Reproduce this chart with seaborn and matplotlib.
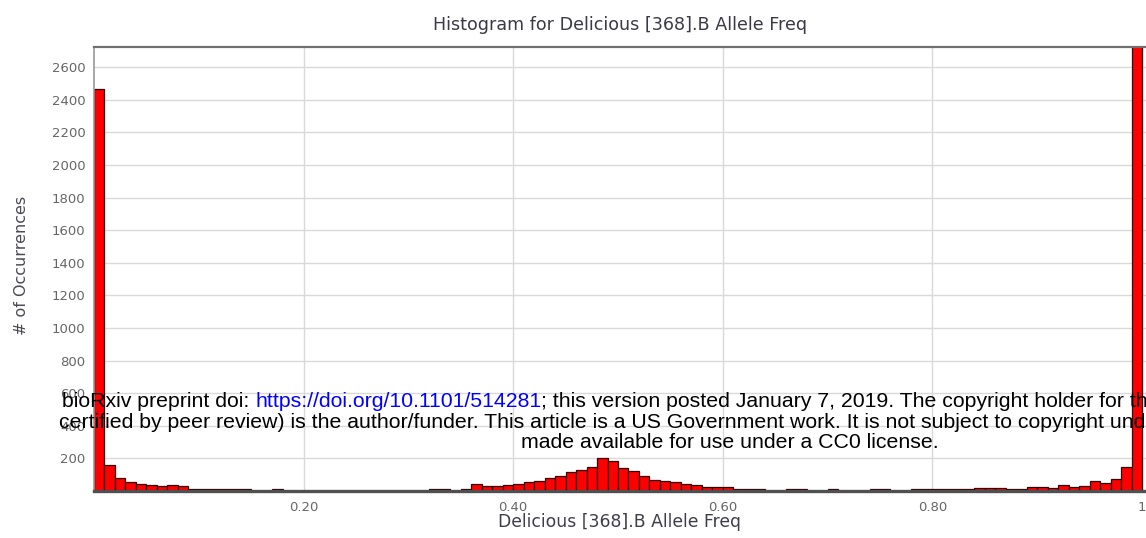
import numpy as np
import pandas as pd
import matplotlib
matplotlib.use("Agg")
import matplotlib.pyplot as plt
import seaborn as sns

# Histogram of B allele frequency: 100 bins of width 0.01 on [0, 1]
bin_left = np.round(np.arange(0, 100) * 0.01, 2)
counts = [
    2465, 160, 80, 55, 40, 35, 30, 38, 32, 12,     # 0.00 - 0.09
    12, 12, 12, 12, 12, 0, 0, 12, 0, 0,            # 0.10 - 0.19
    0, 0, 0, 0, 0, 0, 0, 0, 0, 0,                  # 0.20 - 0.29
    0, 0, 12, 12, 0, 12, 40, 30, 30, 35,           # 0.30 - 0.39
    45, 55, 60, 80, 90, 115, 130, 150, 200, 185,   # 0.40 - 0.49
    140, 120, 95, 70, 60, 55, 40, 35, 25, 25,      # 0.50 - 0.59
    22, 15, 12, 12, 0, 0, 12, 12, 0, 0,            # 0.60 - 0.69
    12, 0, 0, 0, 12, 12, 0, 0, 12, 12,             # 0.70 - 0.79
    12, 15, 12, 12, 18, 18, 18, 12, 15, 25,        # 0.80 - 0.89
    25, 20, 35, 25, 30, 60, 50, 75, 150, 2750,     # 0.90 - 0.99
]
y_ticks = list(range(200, 2601, 200))
x_ticks = [0.20, 0.40, 0.60, 0.80, 1.0]
x_tick_labels = ["0.20", "0.40", "0.60", "0.80", "1"]

title = "Histogram for Delicious [368].B Allele Freq"
x_label = "Delicious [368].B Allele Freq"
y_label = "# of Occurrences"

notice_1 = [
    ("bioRxiv preprint doi: ", "black"),
    ("https://doi.org/10.1101/514281", "#0000ff"),
    ("; this version posted January 7, 2019. The copyright holder for th", "black"),
]
notice_2 = ("certified by peer review) is the author/funder. This article is a US Government work. "
            "It is not subject to copyright und")
notice_3 = "made available for use under a CC0 license."

W, H = 1146, 538

sns.set_theme(style="white")
plt.rcParams["font.family"] = ["DejaVu Sans"]

fig = plt.figure(figsize=(W / 100, H / 100), dpi=100)
fig.patch.set_facecolor("white")
ax = fig.add_axes([94 / W, 1 - 491 / H, 1 - 94 / W, (491 - 47) / H])

df = pd.DataFrame({"freq": bin_left + 0.005, "count": counts})
sns.histplot(
    data=df, x="freq", weights="count", binwidth=0.01, binrange=(0, 1),
    color="#ff0000", edgecolor="#300000", linewidth=0.9, alpha=1.0, ax=ax,
)

ax.set_xlim(0, 1.0038)
ax.set_ylim(0, 2723)
ax.set_axisbelow(True)
ax.grid(True, color="#d9d9d9", linewidth=1.0)

ax.set_xticks(x_ticks)
ax.set_xticklabels(x_tick_labels)
ax.set_yticks(y_ticks)
ax.set_yticklabels([str(v) for v in y_ticks])
ax.tick_params(axis="both", direction="in", length=4, width=1, color="#555555",
               labelcolor="#666666", labelsize=9.5)
ax.tick_params(axis="y", pad=6)
ax.tick_params(axis="x", pad=7)

ax.spines["right"].set_visible(False)
ax.spines["top"].set_color("#707070")
ax.spines["top"].set_linewidth(1.6)
ax.spines["left"].set_color("#9a9a9a")
ax.spines["left"].set_linewidth(1.2)
ax.spines["bottom"].set_color("#505050")
ax.spines["bottom"].set_linewidth(2.4)

ax.set_xlabel(x_label, fontsize=12.4, color="#3e3e4a")
ax.xaxis.set_label_coords(0.5, -0.049)
ax.set_ylabel(y_label, fontsize=11.5, color="#4a4a55")
ax.yaxis.set_label_coords(-0.062, 0.509)
ax.text(0.5, 1 + (47 - 25) / 444, title, transform=ax.transAxes,
        ha="center", va="center", fontsize=12.6, color="#3a3a46")

# Preprint notice printed across the figure
notice_font = dict(family="Liberation Sans", fontsize=15.3, zorder=10)
prev = fig.text(62 / W, 1 - 407 / H, notice_1[0][0], color=notice_1[0][1],
                ha="left", va="baseline", **notice_font)
for txt, col in notice_1[1:]:
    prev = ax.annotate(txt, xy=(1, 0), xycoords=prev, ha="left", va="bottom",
                       color=col, annotation_clip=False, **notice_font)
fig.text(59 / W, 1 - 427.5 / H, notice_2, color="black", ha="left", va="baseline", **notice_font)
fig.text(730 / W, 1 - 448 / H, notice_3, color="black", ha="center", va="baseline", **notice_font)

fig.savefig("out.png", dpi=100)
